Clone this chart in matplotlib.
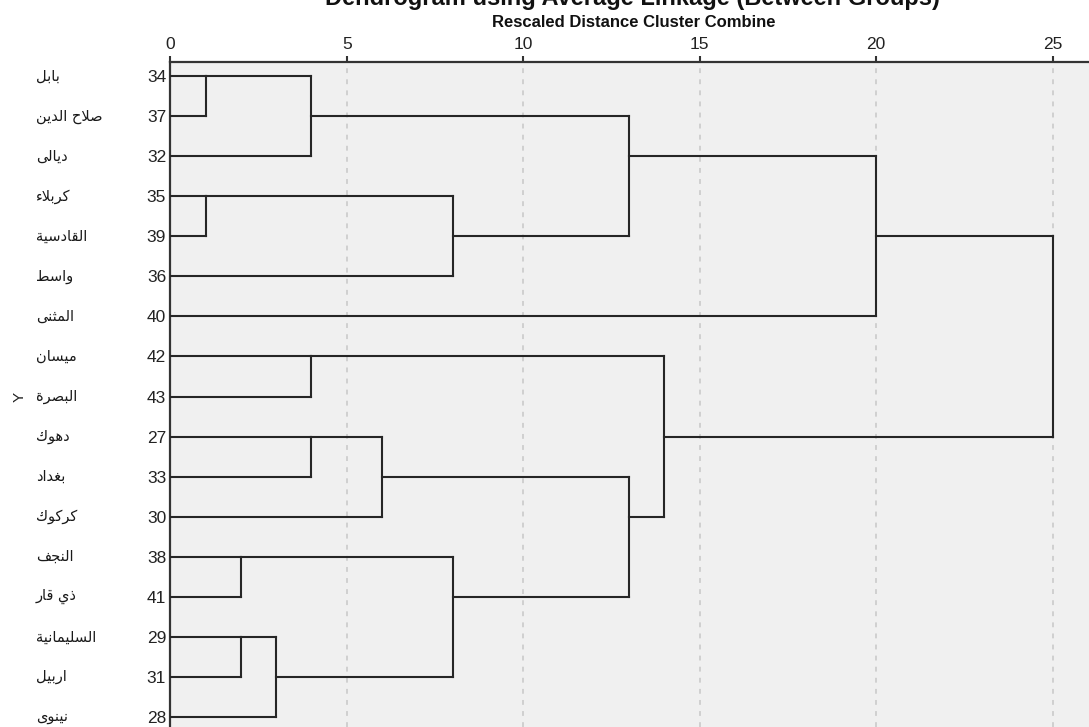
import matplotlib
matplotlib.use("Agg")
import matplotlib.pyplot as plt
import matplotlib.transforms as mtrans

# ---- data -------------------------------------------------------------
leaf_ids = [34, 37, 32, 35, 39, 36, 40, 42, 43, 27, 33, 30, 38, 41, 29, 31, 28]
leaf_names = ["بابل", "صلاح الدين", "ديالى", "كربلاء", "القادسية", "واسط",
              "المثنى", "ميسان", "البصرة", "دهوك", "بغداد", "كركوك",
              "النجف", "ذي قار", "السليمانية", "اربيل", "نينوى"]

# merges: node index of each joined pair (leaves 0..16, new clusters 17..)
merge_left = [0, 17, 3, 19, 18, 21, 7, 9, 24, 12, 14, 27, 26, 25, 23, 22]
merge_right = [1, 2, 4, 5, 20, 6, 8, 10, 11, 13, 15, 16, 28, 29, 30, 31]
merge_dist = [1, 4, 1, 8, 13, 20, 4, 4, 6, 2, 2, 3, 8, 13, 14, 25]

x_ticks = [0, 5, 10, 15, 20, 25]

# ---- Arabic shaping for a left-to-right renderer ----------------------
# letter: (isolated, final, initial, medial); None where the form does not exist
FORMS = {
    "\u0621": (0xFE80, None, None, None),
    "\u0627": (0xFE8D, 0xFE8E, None, None),
    "\u0628": (0xFE8F, 0xFE90, 0xFE91, 0xFE92),
    "\u0629": (0xFE93, 0xFE94, None, None),
    "\u062A": (0xFE95, 0xFE96, 0xFE97, 0xFE98),
    "\u062B": (0xFE99, 0xFE9A, 0xFE9B, 0xFE9C),
    "\u062C": (0xFE9D, 0xFE9E, 0xFE9F, 0xFEA0),
    "\u062D": (0xFEA1, 0xFEA2, 0xFEA3, 0xFEA4),
    "\u062E": (0xFEA5, 0xFEA6, 0xFEA7, 0xFEA8),
    "\u062F": (0xFEA9, 0xFEAA, None, None),
    "\u0630": (0xFEAB, 0xFEAC, None, None),
    "\u0631": (0xFEAD, 0xFEAE, None, None),
    "\u0632": (0xFEAF, 0xFEB0, None, None),
    "\u0633": (0xFEB1, 0xFEB2, 0xFEB3, 0xFEB4),
    "\u0634": (0xFEB5, 0xFEB6, 0xFEB7, 0xFEB8),
    "\u0635": (0xFEB9, 0xFEBA, 0xFEBB, 0xFEBC),
    "\u0636": (0xFEBD, 0xFEBE, 0xFEBF, 0xFEC0),
    "\u0637": (0xFEC1, 0xFEC2, 0xFEC3, 0xFEC4),
    "\u0638": (0xFEC5, 0xFEC6, 0xFEC7, 0xFEC8),
    "\u0639": (0xFEC9, 0xFECA, 0xFECB, 0xFECC),
    "\u063A": (0xFECD, 0xFECE, 0xFECF, 0xFED0),
    "\u0641": (0xFED1, 0xFED2, 0xFED3, 0xFED4),
    "\u0642": (0xFED5, 0xFED6, 0xFED7, 0xFED8),
    "\u0643": (0xFED9, 0xFEDA, 0xFEDB, 0xFEDC),
    "\u0644": (0xFEDD, 0xFEDE, 0xFEDF, 0xFEE0),
    "\u0645": (0xFEE1, 0xFEE2, 0xFEE3, 0xFEE4),
    "\u0646": (0xFEE5, 0xFEE6, 0xFEE7, 0xFEE8),
    "\u0647": (0xFEE9, 0xFEEA, 0xFEEB, 0xFEEC),
    "\u0648": (0xFEED, 0xFEEE, None, None),
    "\u0649": (0xFEEF, 0xFEF0, None, None),
    "\u064A": (0xFEF1, 0xFEF2, 0xFEF3, 0xFEF4),
}


def joins_next(ch):
    f = FORMS.get(ch)
    return f is not None and f[2] is not None


def joins_prev(ch):
    f = FORMS.get(ch)
    return f is not None and f[1] is not None


def shape(text):
    # fold lam + alef into the ligature first
    chars = []
    i = 0
    while i < len(text):
        if text[i] == "\u0644" and i + 1 < len(text) and text[i + 1] == "\u0627":
            chars.append("LA")
            i += 2
        else:
            chars.append(text[i])
            i += 1
    out = []
    for k, ch in enumerate(chars):
        prev = chars[k - 1] if k > 0 else None
        nxt = chars[k + 1] if k + 1 < len(chars) else None
        con_prev = prev is not None and prev != "LA" and joins_next(prev)
        if ch == "LA":
            out.append(chr(0xFEFC if con_prev else 0xFEFB))
            continue
        if ch not in FORMS:
            out.append(ch)
            continue
        nxt_ch = "\u0644" if nxt == "LA" else nxt
        con_next = nxt is not None and joins_next(ch) and joins_prev(nxt_ch)
        iso, fin, ini, med = FORMS[ch]
        if con_prev and con_next:
            code = med
        elif con_prev:
            code = fin
        elif con_next:
            code = ini
        else:
            code = iso
        out.append(chr(code))
    return "".join(out)[::-1]


# ---- figure -----------------------------------------------------------
W, H = 1089, 727
fig = plt.figure(figsize=(W / 100, H / 100), dpi=100)
fig.patch.set_facecolor("white")

x0_px, top_px = 170.3, 62
ax = fig.add_axes([x0_px / W, 0, 1 - x0_px / W, 1 - top_px / H])
ax.set_facecolor("#f0f0f0")
ax.set_xlim(0, 26.03)
ax.set_ylim(16.25, -0.35)

line_kw = dict(color="#262626", lw=1.5, solid_capstyle="projecting", zorder=3)

# leaf positions, then each cluster sits on the row midway between its children
pos = list(range(len(leaf_ids)))
height = [0.0] * len(leaf_ids)
for a, b, d in zip(merge_left, merge_right, merge_dist):
    for c in (a, b):
        ax.plot([height[c], d], [pos[c], pos[c]], **line_kw)
    ax.plot([d, d], [pos[a], pos[b]], **line_kw)
    pos.append((pos[a] + pos[b]) // 2)
    height.append(d)

# dashed guides
for t in x_ticks[1:]:
    ax.axvline(t, color="#d0d0d0", lw=1.4, ls=(0, (2.5, 3.2)), zorder=1)

# axes decoration
ax.xaxis.tick_top()
ax.set_xticks(x_ticks)
ax.set_xticklabels([str(t) for t in x_ticks], fontsize=12.5,
                   family="Liberation Sans", color="#222222")
ax.tick_params(axis="x", direction="out", length=4.5, width=1.5,
               color="#333333", pad=3)
ax.set_yticks(range(len(leaf_ids)))
ax.set_yticklabels([str(v) for v in leaf_ids], fontsize=12.5,
                   family="Liberation Sans", color="#222222")
ax.tick_params(axis="y", length=0, pad=3)
for side in ("right", "bottom"):
    ax.spines[side].set_visible(False)
for side in ("top", "left"):
    ax.spines[side].set_color("#333333")
    ax.spines[side].set_linewidth(1.6)

# case names: x in figure fraction, y on the leaf rows
name_tr = mtrans.blended_transform_factory(fig.transFigure, ax.transData)
for i, name in enumerate(leaf_names):
    ax.text(36 / W, i, shape(name), transform=name_tr,
            fontsize=10.5, family="DejaVu Sans", color="#1a1a1a",
            ha="left", va="center")

ax.text(20 / W, 8.0, "Y", transform=name_tr, rotation=90, fontsize=11,
        family="Liberation Sans", ha="center", va="center", color="#222222")

fig.text(632 / W, 1 - 5 / H, "Dendrogram using Average Linkage (Between Groups)",
         ha="center", va="baseline", fontsize=17, weight="bold",
         family="Liberation Sans", color="#111111")
fig.text(634 / W, 1 - 27 / H, "Rescaled Distance Cluster Combine",
         ha="center", va="baseline", fontsize=12, weight="bold",
         family="Liberation Sans", color="#111111")

fig.savefig("out.png", dpi=100, facecolor="white")
